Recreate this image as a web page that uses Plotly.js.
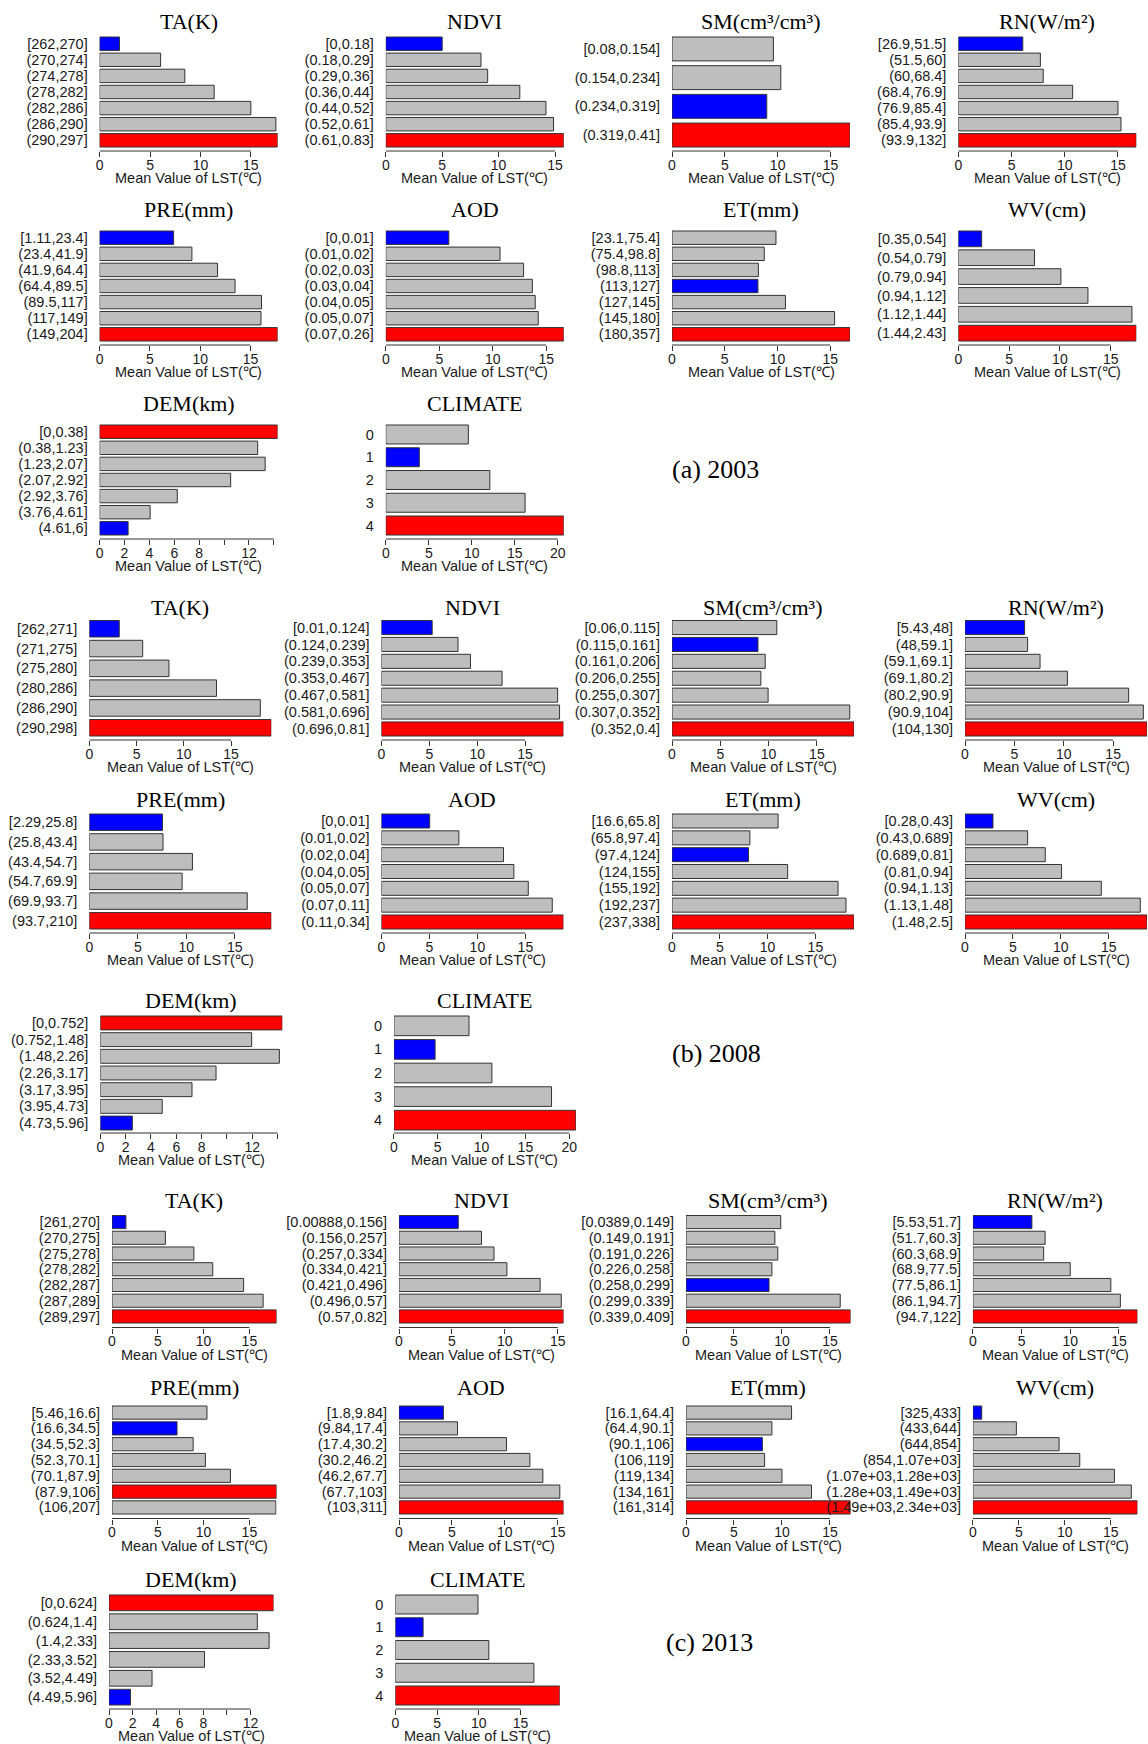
<!DOCTYPE html>
<html>
<head>
<meta charset="utf-8">
<script src="https://cdn.plot.ly/plotly-3.0.1.min.js"></script>
<style>
  html, body { margin: 0; padding: 0; background: #ffffff; }
  #chart { width: 1148px; height: 1744px; }
</style>
</head>
<body>
<div id="chart"></div>
<script>
// Mean LST (°C) for each class of every driving factor, 2003 / 2008 / 2013

// ---------- 2003 ----------
const ta2003Labels = ["[262,270]", "(270,274]", "(274,278]", "(278,282]", "(282,286]", "(286,290]", "(290,297]"];
const ta2003Values = [1.97, 6.05, 8.45, 11.36, 15.0, 17.48, 17.65];
const ndvi2003Labels = ["[0,0.18]", "(0.18,0.29]", "(0.29,0.36]", "(0.36,0.44]", "(0.44,0.52]", "(0.52,0.61]", "(0.61,0.83]"];
const ndvi2003Values = [5.0, 8.44, 9.03, 11.88, 14.2, 14.87, 15.78];
const sm2003Labels = ["[0.08,0.154]", "(0.154,0.234]", "(0.234,0.319]", "(0.319,0.41]"];
const sm2003Values = [9.6, 10.3, 8.97, 16.85];
const rn2003Labels = ["[26.9,51.5]", "(51.5,60]", "(60,68.4]", "(68.4,76.9]", "(76.9,85.4]", "(85.4,93.9]", "(93.9,132]"];
const rn2003Values = [6.06, 7.71, 7.98, 10.74, 15.0, 15.28, 16.72];
const pre2003Labels = ["[1.11,23.4]", "(23.4,41.9]", "(41.9,64.4]", "(64.4,89.5]", "(89.5,117]", "(117,149]", "(149,204]"];
const pre2003Values = [7.36, 9.18, 11.73, 13.47, 16.1, 16.05, 17.7];
const aod2003Labels = ["[0,0.01]", "(0.01,0.02]", "(0.02,0.03]", "(0.03,0.04]", "(0.04,0.05]", "(0.05,0.07]", "(0.07,0.26]"];
const aod2003Values = [5.89, 10.68, 12.88, 13.7, 13.97, 14.25, 16.64];
const et2003Labels = ["[23.1,75.4]", "(75.4,98.8]", "(98.8,113]", "(113,127]", "(127,145]", "(145,180]", "(180,357]"];
const et2003Values = [9.86, 8.75, 8.19, 8.15, 10.76, 15.42, 16.88];
const wv2003Labels = ["[0.35,0.54]", "(0.54,0.79]", "(0.79,0.94]", "(0.94,1.12]", "(1.12,1.44]", "(1.44,2.43]"];
const wv2003Values = [2.3, 7.5, 10.1, 12.76, 17.09, 17.52];
const dem2003Labels = ["[0,0.38]", "(0.38,1.23]", "(1.23,2.07]", "(2.07,2.92]", "(2.92,3.76]", "(3.76,4.61]", "(4.61,6]"];
const dem2003Values = [14.3, 12.7, 13.3, 10.53, 6.24, 4.06, 2.29];
const climate2003Labels = ["0", "1", "2", "3", "4"];
const climate2003Values = [9.6, 3.9, 12.1, 16.2, 20.7];

// ---------- 2008 ----------
const ta2008Labels = ["[262,271]", "(271,275]", "(275,280]", "(280,286]", "(286,290]", "(290,298]"];
const ta2008Values = [3.17, 5.65, 8.43, 13.46, 18.1, 19.26];
const ndvi2008Labels = ["[0.01,0.124]", "(0.124,0.239]", "(0.239,0.353]", "(0.353,0.467]", "(0.467,0.581]", "(0.581,0.696]", "(0.696,0.81]"];
const ndvi2008Values = [5.3, 8.0, 9.3, 12.6, 18.4, 18.6, 19.0];
const sm2008Labels = ["[0.06,0.115]", "(0.115,0.161]", "(0.161,0.206]", "(0.206,0.255]", "(0.255,0.307]", "(0.307,0.352]", "(0.352,0.4]"];
const sm2008Values = [10.85, 8.9, 9.65, 9.2, 9.95, 18.4, 18.84];
const rn2008Labels = ["[5.43,48]", "(48,59.1]", "(59.1,69.1]", "(69.1,80.2]", "(80.2,90.9]", "(90.9,104]", "(104,130]"];
const rn2008Values = [6.04, 6.34, 7.6, 10.37, 16.57, 18.06, 18.43];
const pre2008Labels = ["[2.29,25.8]", "(25.8,43.4]", "(43.4,54.7]", "(54.7,69.9]", "(69.9,93.7]", "(93.7,210]"];
const pre2008Values = [7.54, 7.6, 10.63, 9.57, 16.28, 18.76];
const aod2008Labels = ["[0,0.01]", "(0.01,0.02]", "(0.02,0.04]", "(0.04,0.05]", "(0.05,0.07]", "(0.07,0.11]", "(0.11,0.34]"];
const aod2008Values = [5.03, 8.07, 12.72, 13.8, 15.3, 17.8, 18.96];
const et2008Labels = ["[16.6,65.8]", "(65.8,97.4]", "(97.4,124]", "(124,155]", "(155,192]", "(192,237]", "(237,338]"];
const et2008Values = [11.1, 8.15, 8.0, 12.1, 17.37, 18.2, 19.04];
const wv2008Labels = ["[0.28,0.43]", "(0.43,0.689]", "(0.689,0.81]", "(0.81,0.94]", "(0.94,1.13]", "(1.13,1.48]", "(1.48,2.5]"];
const wv2008Values = [2.92, 6.54, 8.38, 10.08, 14.23, 18.3, 19.0];
const dem2008Labels = ["[0,0.752]", "(0.752,1.48]", "(1.48,2.26]", "(2.26,3.17]", "(3.17,3.95]", "(3.95,4.73]", "(4.73,5.96]"];
const dem2008Values = [14.37, 11.95, 14.14, 9.14, 7.24, 4.89, 2.53];
const climate2008Labels = ["0", "1", "2", "3", "4"];
const climate2008Values = [8.57, 4.7, 11.18, 17.98, 20.76];

// ---------- 2013 ----------
const ta2013Labels = ["[261,270]", "(270,275]", "(275,278]", "(278,282]", "(282,287]", "(287,289]", "(289,297]"];
const ta2013Values = [1.52, 5.83, 8.94, 11.0, 14.37, 16.5, 17.96];
const ndvi2013Labels = ["[0.00888,0.156]", "(0.156,0.257]", "(0.257,0.334]", "(0.334,0.421]", "(0.421,0.496]", "(0.496,0.57]", "(0.57,0.82]"];
const ndvi2013Values = [5.6, 7.8, 8.98, 10.2, 13.34, 15.34, 15.55];
const sm2013Labels = ["[0.0389,0.149]", "(0.149,0.191]", "(0.191,0.226]", "(0.226,0.258]", "(0.258,0.299]", "(0.299,0.339]", "(0.339,0.409]"];
const sm2013Values = [9.87, 9.26, 9.56, 8.95, 8.65, 16.07, 17.14];
const rn2013Labels = ["[5.53,51.7]", "(51.7,60.3]", "(60.3,68.9]", "(68.9,77.5]", "(77.5,86.1]", "(86.1,94.7]", "(94.7,122]"];
const rn2013Values = [6.06, 7.42, 7.27, 10.0, 14.17, 15.15, 16.9];
const pre2013Labels = ["[5.46,16.6]", "(16.6,34.5]", "(34.5,52.3]", "(52.3,70.1]", "(70.1,87.9]", "(87.9,106]", "(106,207]"];
const pre2013Values = [10.37, 7.1, 8.86, 10.2, 12.93, 17.96, 17.9];
const aod2013Labels = ["[1.8,9.84]", "(9.84,17.4]", "(17.4,30.2]", "(30.2,46.2]", "(46.2,67.7]", "(67.7,103]", "(103,311]"];
const aod2013Values = [4.2, 5.53, 10.16, 12.37, 13.6, 15.2, 15.55];
const et2013Labels = ["[16.1,64.4]", "(64.4,90.1]", "(90.1,106]", "(106,119]", "(119,134]", "(134,161]", "(161,314]"];
const et2013Values = [11.0, 8.95, 7.96, 8.19, 10.0, 13.08, 17.14];
const wv2013Labels = ["[325,433]", "(433,644]", "(644,854]", "(854,1.07e+03]", "(1.07e+03,1.28e+03]", "(1.28e+03,1.49e+03]", "(1.49e+03,2.34e+03]"];
const wv2013Values = [0.96, 4.73, 9.38, 11.63, 15.4, 17.24, 17.9];
const dem2013Labels = ["[0,0.624]", "(0.624,1.4]", "(1.4,2.33]", "(2.33,3.52]", "(3.52,4.49]", "(4.49,5.96]"];
const dem2013Values = [13.95, 12.58, 13.58, 8.1, 3.65, 1.82];
const climate2013Labels = ["0", "1", "2", "3", "4"];
const climate2013Values = [9.9, 3.33, 11.2, 16.6, 19.7];

const yearLabels = ["(a) 2003", "(b) 2008", "(c) 2013"];
const xAxisLabel = "Mean Value of LST(℃)";

// ---------- page geometry (px) ----------
const W = 1148, H = 1744;
const SECTIONS = [
  { year: { x: 715, y: 469 }, rows: [
    { x0: [99.6, 385.8, 672.0, 958.3], w: 178, title: 21.5, top: 37, bot: 147, axis: 151 },
    { x0: [99.6, 385.8, 672.0, 958.3], w: 178, title: 209, top: 231, bot: 341, axis: 345 },
    { x0: [99.6, 385.8], w: 178, title: 403, top: 425, bot: 535, axis: 539 } ] },
  { year: { x: 716, y: 1053 }, rows: [
    { x0: [89.3, 381.4, 672.0, 965.0], w: 182, title: 607, top: 620.5, bot: 736, axis: 740 },
    { x0: [89.3, 381.4, 672.0, 965.0], w: 182, title: 799, top: 814, bot: 929, axis: 933 },
    { x0: [100.3, 393.9], w: 182, title: 1000, top: 1016, bot: 1130, axis: 1133 } ] },
  { year: { x: 709, y: 1642 }, rows: [
    { x0: [112, 399, 686, 972.9], w: 164.5, title: 1200, top: 1215.5, bot: 1323, axis: 1327.5 },
    { x0: [112, 399, 686, 972.9], w: 164.5, title: 1387, top: 1406, bot: 1514, axis: 1518.5 },
    { x0: [109, 395.3], w: 164.5, title: 1579, top: 1595, bot: 1705, axis: 1709 } ] }
];

const GRAY = "#bebebe", RED = "#ff0000", BLUE = "#0000ff", EDGE = "#333333";
const SANS = "Liberation Sans, Arial, sans-serif";
const SERIF = "Liberation Serif, Times New Roman, serif";
const GAP = 1 / 6;

const demTicks = { step: 2, hide: [10, 14] };

const panels = [
  { sec: 0, row: 0, col: 0, title: "TA(K)", labels: ta2003Labels, values: ta2003Values },
  { sec: 0, row: 0, col: 1, title: "NDVI", labels: ndvi2003Labels, values: ndvi2003Values },
  { sec: 0, row: 0, col: 2, title: "SM(cm³/cm³)", labels: sm2003Labels, values: sm2003Values },
  { sec: 0, row: 0, col: 3, title: "RN(W/m²)", labels: rn2003Labels, values: rn2003Values },
  { sec: 0, row: 1, col: 0, title: "PRE(mm)", labels: pre2003Labels, values: pre2003Values },
  { sec: 0, row: 1, col: 1, title: "AOD", labels: aod2003Labels, values: aod2003Values },
  { sec: 0, row: 1, col: 2, title: "ET(mm)", labels: et2003Labels, values: et2003Values },
  { sec: 0, row: 1, col: 3, title: "WV(cm)", labels: wv2003Labels, values: wv2003Values },
  { sec: 0, row: 2, col: 0, title: "DEM(km)", labels: dem2003Labels, values: dem2003Values, ticks: demTicks },
  { sec: 0, row: 2, col: 1, title: "CLIMATE", labels: climate2003Labels, values: climate2003Values },

  { sec: 1, row: 0, col: 0, title: "TA(K)", labels: ta2008Labels, values: ta2008Values },
  { sec: 1, row: 0, col: 1, title: "NDVI", labels: ndvi2008Labels, values: ndvi2008Values },
  { sec: 1, row: 0, col: 2, title: "SM(cm³/cm³)", labels: sm2008Labels, values: sm2008Values },
  { sec: 1, row: 0, col: 3, title: "RN(W/m²)", labels: rn2008Labels, values: rn2008Values },
  { sec: 1, row: 1, col: 0, title: "PRE(mm)", labels: pre2008Labels, values: pre2008Values },
  { sec: 1, row: 1, col: 1, title: "AOD", labels: aod2008Labels, values: aod2008Values },
  { sec: 1, row: 1, col: 2, title: "ET(mm)", labels: et2008Labels, values: et2008Values },
  { sec: 1, row: 1, col: 3, title: "WV(cm)", labels: wv2008Labels, values: wv2008Values },
  { sec: 1, row: 2, col: 0, title: "DEM(km)", labels: dem2008Labels, values: dem2008Values, ticks: demTicks },
  { sec: 1, row: 2, col: 1, title: "CLIMATE", labels: climate2008Labels, values: climate2008Values },

  { sec: 2, row: 0, col: 0, title: "TA(K)", labels: ta2013Labels, values: ta2013Values },
  { sec: 2, row: 0, col: 1, title: "NDVI", labels: ndvi2013Labels, values: ndvi2013Values },
  { sec: 2, row: 0, col: 2, title: "SM(cm³/cm³)", labels: sm2013Labels, values: sm2013Values },
  { sec: 2, row: 0, col: 3, title: "RN(W/m²)", labels: rn2013Labels, values: rn2013Values },
  { sec: 2, row: 1, col: 0, title: "PRE(mm)", labels: pre2013Labels, values: pre2013Values },
  { sec: 2, row: 1, col: 1, title: "AOD", labels: aod2013Labels, values: aod2013Values },
  { sec: 2, row: 1, col: 2, title: "ET(mm)", labels: et2013Labels, values: et2013Values },
  { sec: 2, row: 1, col: 3, title: "WV(cm)", labels: wv2013Labels, values: wv2013Values },
  { sec: 2, row: 2, col: 0, title: "DEM(km)", labels: dem2013Labels, values: dem2013Values, ticks: demTicks },
  { sec: 2, row: 2, col: 1, title: "CLIMATE", labels: climate2013Labels, values: climate2013Values }
];

const data = [];
const annotations = [];
const shapes = [];
const layout = {
  width: W, height: H,
  margin: { l: 0, r: 0, t: 0, b: 0, pad: 0 },
  paper_bgcolor: "#ffffff", plot_bgcolor: "rgba(0,0,0,0)",
  showlegend: false,
  bargap: GAP,
  font: { family: SANS, size: 14, color: "#1a1a1a" }
};

panels.forEach((p, i) => {
  const n = i + 1;
  const sfx = n === 1 ? "" : String(n);
  const g = SECTIONS[p.sec].rows[p.row];
  const x0 = g.x0[p.col], w = g.w;
  const maxV = Math.max(...p.values);
  const minV = Math.min(...p.values);
  const colors = p.values.map(v => v === maxV ? RED : (v === minV ? BLUE : GRAY));

  data.push({
    type: "bar", orientation: "h",
    x: p.values, y: p.labels,
    xaxis: "x" + sfx, yaxis: "y" + sfx,
    marker: { color: colors, line: { color: EDGE, width: 1 } },
    hoverinfo: "x+y"
  });

  // x ticks: regular steps up to the data maximum, some labels left blank
  const step = p.ticks ? p.ticks.step : 5;
  const hide = p.ticks ? p.ticks.hide : [];
  const tickvals = [];
  for (let t = 0; t <= maxV + 1e-9; t += step) tickvals.push(t);
  const ticktext = tickvals.map(t => hide.includes(t) ? "" : String(t));

  layout["xaxis" + sfx] = {
    domain: [x0 / W, (x0 + w) / W],
    anchor: "y" + sfx,
    range: [0, maxV],
    tickmode: "array", tickvals: tickvals, ticktext: ticktext,
    ticks: "outside", ticklen: 5, tickwidth: 1, tickcolor: EDGE,
    ticklabelstandoff: -4,
    showline: false, showgrid: false, zeroline: false,
    tickfont: { family: SANS, size: 14, color: "#1a1a1a" },
    fixedrange: true
  };

  // y: first class on top; bars fill [top, bot], axis line sits at g.axis
  const N = p.labels.length;
  const h = (1 - GAP) / 2;
  const u = (N - 1 + 2 * h) / (g.bot - g.top);
  const pad = g.axis - g.bot;
  layout["yaxis" + sfx] = {
    type: "category",
    domain: [1 - g.axis / H, 1 - (g.top - pad) / H],
    anchor: "x" + sfx,
    range: [N - 1 + h + pad * u, -h - pad * u],
    tickmode: "array", tickvals: p.labels, ticktext: p.labels,
    ticks: "outside", ticklen: 8, tickcolor: "rgba(0,0,0,0)",
    showline: false, showgrid: false, zeroline: false,
    tickfont: { family: SANS, size: 14.5, color: "#1a1a1a" },
    fixedrange: true
  };

  // axis line from 0 to the last tick
  shapes.push({
    type: "line", xref: "x" + sfx, yref: "y" + sfx + " domain",
    x0: 0, x1: tickvals[tickvals.length - 1], y0: 0, y1: 0,
    line: { color: EDGE, width: 1 }
  });

  annotations.push({
    xref: "paper", yref: "paper",
    x: (x0 + w / 2) / W, y: 1 - g.title / H,
    xanchor: "center", yanchor: "middle", showarrow: false,
    text: p.title, font: { family: SERIF, size: 22, color: "#000000" }
  });
  annotations.push({
    xref: "paper", yref: "paper",
    x: (x0 + w / 2) / W, y: 1 - (g.axis + 27) / H,
    xanchor: "center", yanchor: "middle", showarrow: false,
    text: xAxisLabel, font: { family: SANS, size: 14.5, color: "#1a1a1a" }
  });
});

SECTIONS.forEach((s, k) => {
  annotations.push({
    xref: "paper", yref: "paper",
    x: s.year.x / W, y: 1 - s.year.y / H,
    xanchor: "center", yanchor: "middle", showarrow: false,
    text: yearLabels[k], font: { family: SERIF, size: 26, color: "#000000" }
  });
});

layout.annotations = annotations;
layout.shapes = shapes;

Plotly.newPlot("chart", data, layout, { staticPlot: true, displayModeBar: false });
</script>
</body>
</html>
